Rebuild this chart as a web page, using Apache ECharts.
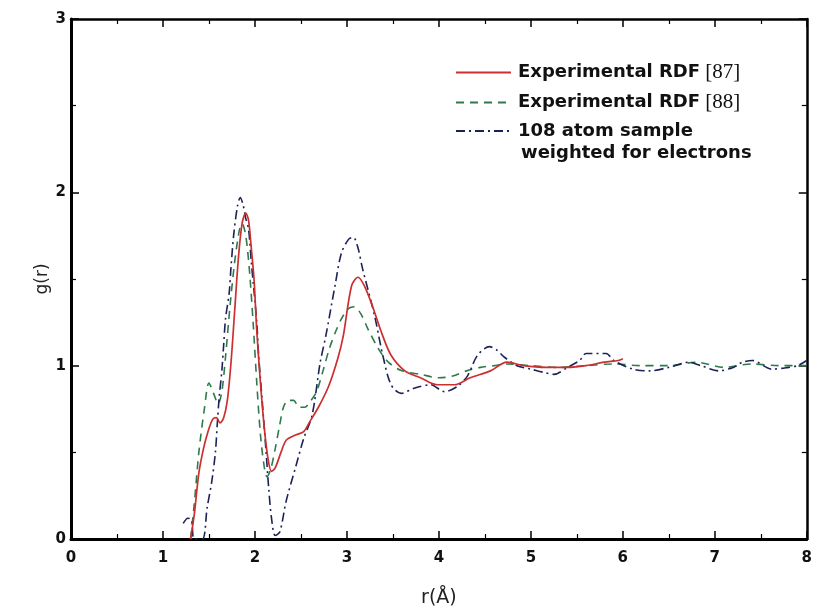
<!DOCTYPE html>
<html>
<head>
<meta charset="utf-8">
<script src="https://cdn.jsdelivr.net/npm/echarts@6/dist/echarts.min.js"></script>
<style>html,body{margin:0;padding:0;background:#fff}#c{width:815px;height:613px}</style>
</head>
<body>
<div id="c"></div>
<script>
// ---- data ----
var xTicks = [0, 1, 2, 3, 4, 5, 6, 7, 8];
var yTicks = [0, 1, 2, 3];
var seriesNames = ['Experimental RDF [87]', 'Experimental RDF [88]', '108 atom sample'];

var rRed = [1.30,1.34,1.39,1.44,1.49,1.54,1.58,1.62,1.66,1.70,1.74,1.78,1.82,1.86,1.90,1.93,1.96,1.99,2.02,2.06,2.10,2.14,2.18,2.22,2.29,2.34,2.44,2.53,2.60,2.69,2.80,2.90,2.96,3.05,3.12,3.19,3.28,3.37,3.48,3.63,3.80,3.98,4.17,4.34,4.56,4.74,4.92,5.17,5.40,5.60,5.80,5.95,6.00];
var gRed = [0.00,0.14,0.38,0.52,0.62,0.69,0.70,0.67,0.70,0.80,1.02,1.32,1.62,1.82,1.88,1.84,1.68,1.50,1.20,0.90,0.65,0.47,0.39,0.41,0.51,0.57,0.60,0.62,0.68,0.76,0.88,1.04,1.17,1.46,1.51,1.46,1.34,1.20,1.06,0.97,0.93,0.89,0.89,0.93,0.97,1.02,1.00,0.99,0.99,1.00,1.02,1.03,1.04];

var rGreen = [1.30,1.34,1.39,1.45,1.50,1.55,1.60,1.64,1.68,1.73,1.78,1.83,1.86,1.90,1.94,1.98,2.02,2.06,2.10,2.13,2.17,2.22,2.27,2.31,2.36,2.42,2.48,2.54,2.61,2.67,2.74,2.81,2.88,2.95,3.02,3.08,3.15,3.23,3.34,3.45,3.60,3.80,4.00,4.15,4.30,4.45,4.60,4.75,5.00,5.30,5.60,5.90,6.20,6.50,6.80,7.10,7.40,7.70,8.00];
var gGreen = [0.00,0.20,0.50,0.75,0.90,0.84,0.78,0.85,1.05,1.35,1.60,1.78,1.82,1.75,1.55,1.25,0.90,0.60,0.42,0.36,0.40,0.52,0.66,0.76,0.80,0.80,0.76,0.76,0.80,0.85,0.97,1.10,1.20,1.28,1.33,1.34,1.30,1.21,1.10,1.02,0.97,0.95,0.93,0.94,0.97,0.99,1.00,1.01,1.00,0.99,1.00,1.01,1.00,1.00,1.02,0.99,1.01,1.00,1.00];

var rBlue = [1.22,1.27,1.31,1.34,1.43,1.48,1.53,1.57,1.59,1.61,1.64,1.66,1.68,1.72,1.74,1.77,1.81,1.84,1.87,1.90,1.93,1.96,1.99,2.02,2.04,2.08,2.12,2.15,2.18,2.22,2.27,2.34,2.44,2.53,2.62,2.71,2.77,2.87,2.94,3.02,3.07,3.12,3.17,3.30,3.39,3.48,3.59,3.73,3.91,4.06,4.20,4.31,4.42,4.55,4.63,4.71,4.85,5.00,5.15,5.25,5.40,5.53,5.60,5.82,5.90,6.11,6.29,6.50,6.72,6.85,7.04,7.20,7.30,7.41,7.62,7.80,7.90,8.00];
var gBlue = [0.09,0.12,0.11,0.00,0.00,0.18,0.33,0.50,0.66,0.81,0.97,1.12,1.27,1.42,1.57,1.76,1.92,1.97,1.93,1.85,1.79,1.60,1.43,1.25,1.06,0.79,0.51,0.29,0.12,0.02,0.04,0.22,0.41,0.58,0.71,1.02,1.17,1.46,1.65,1.73,1.74,1.68,1.56,1.29,1.06,0.89,0.84,0.87,0.89,0.85,0.88,0.94,1.06,1.11,1.09,1.05,1.00,0.98,0.96,0.95,0.99,1.03,1.07,1.07,1.03,0.98,0.97,0.99,1.02,1.00,0.97,0.99,1.02,1.03,0.98,0.99,1.00,1.03];

function pairs(xs, ys) { return xs.map(function (x, i) { return [x, ys[i]]; }); }

var chart = echarts.init(document.getElementById('c'), null, {renderer: 'canvas'});
var labelFont = {fontFamily: 'DejaVu Sans', fontWeight: 'bold', fontSize: 15, color: '#111'};
var axisLineStyle = {color: '#000', width: 3};

var legendRich = {
  b: {fontFamily: 'DejaVu Sans', fontWeight: 'bold', fontSize: 18, color: '#111', lineHeight: 20},
  s: {fontFamily: 'Liberation Serif', fontWeight: 'normal', fontSize: 21, color: '#111', lineHeight: 20}
};

chart.setOption({
  backgroundColor: '#ffffff',
  animation: false,
  grid: {left: 71, right: 3, top: 19, bottom: 72, containLabel: false},
  legend: {
    orient: 'vertical', left: 450, top: 57,
    itemWidth: 55, itemHeight: 14, itemGap: 9,
    data: seriesNames,
    itemStyle: {opacity: 0, borderWidth: 0},
    formatter: function (name) {
      var m = name.match(/^(.*?)\s*(\[\d+\])$/);
      if (m) { return '{b|' + m[1] + '}{s| ' + m[2] + '}'; }
      return '{b|' + name + '}';
    },
    textStyle: {rich: legendRich, padding: [0, 0, 0, 2]}
  },
  graphic: [{
    type: 'text', left: 521, top: 144,
    style: {text: 'weighted for electrons', fontFamily: 'DejaVu Sans', fontWeight: 'bold', fontSize: 18, fill: '#111'}
  }],
  xAxis: [{
    type: 'value', min: xTicks[0], max: xTicks[xTicks.length - 1], interval: 1, position: 'bottom',
    axisLine: {show: true, onZero: false, lineStyle: axisLineStyle},
    axisTick: {show: true, inside: true, length: 8, lineStyle: {color: '#000', width: 1.5}},
    minorTick: {show: true, splitNumber: 2, length: 5, lineStyle: {color: '#000', width: 1.2}},
    splitLine: {show: false},
    axisLabel: Object.assign({margin: 12, showMaxLabel: true}, labelFont),
    name: 'r(Å)', nameLocation: 'middle', nameGap: 50,
    nameTextStyle: {fontFamily: 'DejaVu Sans', fontSize: 19, color: '#222'}
  }, {
    type: 'value', min: xTicks[0], max: xTicks[xTicks.length - 1], interval: 1, position: 'top',
    axisLine: {show: true, onZero: false, lineStyle: {color: '#000', width: 2.5}},
    axisTick: {show: true, inside: true, length: 8, lineStyle: {color: '#000', width: 1.5}},
    minorTick: {show: true, splitNumber: 2, length: 5, lineStyle: {color: '#000', width: 1.2}},
    splitLine: {show: false}, axisLabel: {show: false}
  }],
  yAxis: [{
    type: 'value', min: yTicks[0], max: yTicks[yTicks.length - 1], interval: 1, position: 'left',
    axisLine: {show: true, onZero: false, lineStyle: axisLineStyle},
    axisTick: {show: true, inside: true, length: 8, lineStyle: {color: '#000', width: 1.5}},
    minorTick: {show: true, splitNumber: 2, length: 5, lineStyle: {color: '#000', width: 1.2}},
    splitLine: {show: false},
    axisLabel: Object.assign({margin: 5}, labelFont),
    name: 'g(r)', nameLocation: 'middle', nameGap: 20, nameMoveOverlap: false,
    nameTextStyle: {fontFamily: 'DejaVu Sans', fontSize: 17, color: '#222'}
  }, {
    type: 'value', min: yTicks[0], max: yTicks[yTicks.length - 1], interval: 1, position: 'right',
    axisLine: {show: true, onZero: false, lineStyle: {color: '#000', width: 2.5}},
    axisTick: {show: true, inside: true, length: 8, lineStyle: {color: '#000', width: 1.5}},
    minorTick: {show: true, splitNumber: 2, length: 5, lineStyle: {color: '#000', width: 1.2}},
    splitLine: {show: false}, axisLabel: {show: false}
  }],
  series: [{
    name: seriesNames[0], type: 'line', xAxisIndex: 0, yAxisIndex: 0,
    data: pairs(rRed, gRed), showSymbol: false, symbol: 'none', smooth: 0.3, z: 4,
    lineStyle: {color: '#cc2f2f', width: 1.7, type: 'solid'},
    itemStyle: {color: '#cc2f2f'}
  }, {
    name: seriesNames[1], type: 'line', xAxisIndex: 0, yAxisIndex: 0,
    data: pairs(rGreen, gGreen), showSymbol: false, symbol: 'none', smooth: 0.3, z: 3,
    lineStyle: {color: '#2f7a4c', width: 1.6, type: [8, 6]},
    itemStyle: {color: '#2f7a4c'}
  }, {
    name: seriesNames[2], type: 'line', xAxisIndex: 0, yAxisIndex: 0,
    data: pairs(rBlue, gBlue), showSymbol: false, symbol: 'none', smooth: 0.3, z: 3,
    lineStyle: {color: '#1c2258', width: 1.6, type: [9, 4, 2, 4]},
    itemStyle: {color: '#1c2258'}
  }]
});
</script>
</body>
</html>
